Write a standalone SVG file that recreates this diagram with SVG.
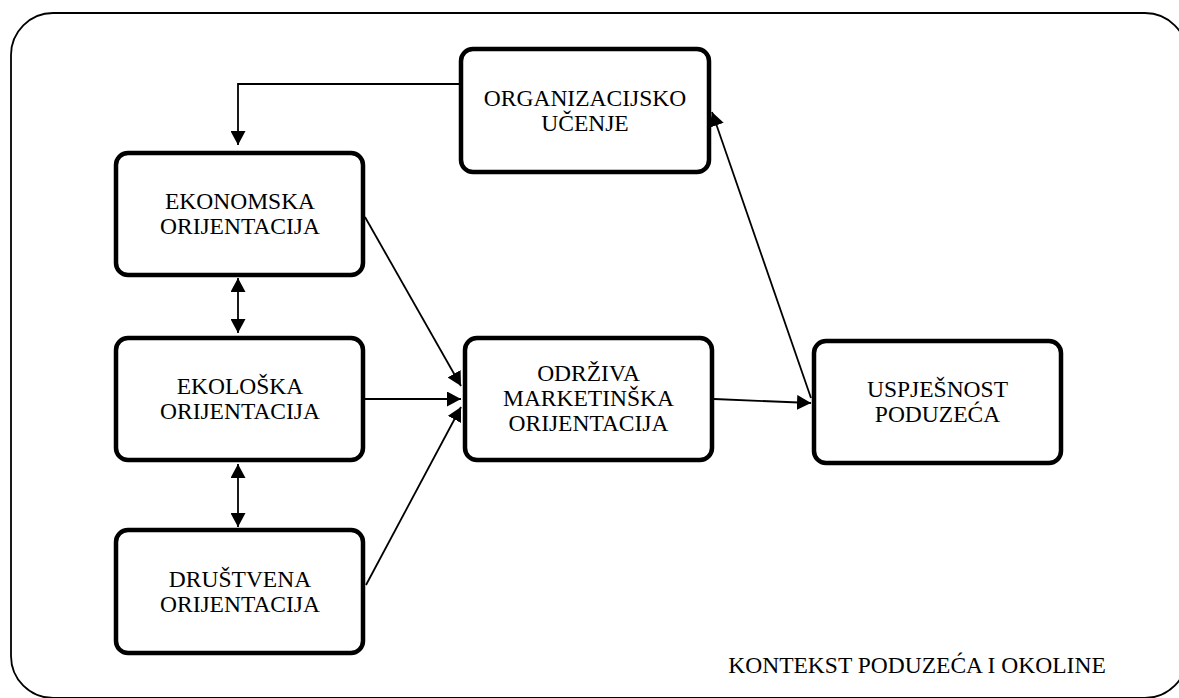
<svg xmlns="http://www.w3.org/2000/svg" width="1179" height="698" viewBox="0 0 1179 698">
<defs>
<marker id="ah" markerUnits="userSpaceOnUse" markerWidth="15" markerHeight="15" refX="14" refY="7.5" orient="auto-start-reverse" viewBox="0 0 15 15">
<path d="M0,0 L14,7.5 L0,15 z" fill="#000"/>
</marker>
<style>
.box{fill:#fff;stroke:#000;stroke-width:4.5}
.lbl{font-size:23.5px;fill:#000;text-anchor:middle}
.con{fill:none;stroke:#000;stroke-width:1.8}
.frame{fill:none;stroke:#000;stroke-width:1.8}
</style>
</defs>
<rect width="1179" height="698" fill="#fff"/>
<rect class="frame" x="11" y="13" width="1176" height="685" rx="42" ry="42"/>
<g id="connectors">
<path class="con" d="M459,84 H238 V145" marker-end="url(#ah)"/>
<line class="con" x1="238" y1="278" x2="238" y2="333" marker-start="url(#ah)" marker-end="url(#ah)"/>
<line class="con" x1="238" y1="464" x2="238" y2="527" marker-start="url(#ah)" marker-end="url(#ah)"/>
<line class="con" x1="365" y1="217" x2="461" y2="386" marker-end="url(#ah)"/>
<line class="con" x1="365" y1="399" x2="461" y2="399" marker-end="url(#ah)"/>
<line class="con" x1="366" y1="585" x2="461" y2="407" marker-end="url(#ah)"/>
<line class="con" x1="714" y1="399" x2="811" y2="403" marker-end="url(#ah)"/>
<line class="con" x1="811" y1="398" x2="712" y2="112" marker-end="url(#ah)"/>
</g>
<g font-family="Liberation Serif, serif">
<g id="organizacijsko">
<rect class="box" x="461" y="49" width="248" height="123" rx="12"/>
<text class="lbl" x="585" y="106">ORGANIZACIJSKO</text>
<text class="lbl" x="585" y="131">UČENJE</text>
</g>
<g id="ekonomska">
<rect class="box" x="116" y="153" width="247" height="122" rx="12"/>
<text class="lbl" x="240" y="209">EKONOMSKA</text>
<text class="lbl" x="240" y="234">ORIJENTACIJA</text>
</g>
<g id="ekoloska">
<rect class="box" x="116" y="338" width="247" height="122" rx="12"/>
<text class="lbl" x="240" y="394">EKOLOŠKA</text>
<text class="lbl" x="240" y="419">ORIJENTACIJA</text>
</g>
<g id="drustvena">
<rect class="box" x="116" y="530" width="247" height="123" rx="12"/>
<text class="lbl" x="240" y="587">DRUŠTVENA</text>
<text class="lbl" x="240" y="612">ORIJENTACIJA</text>
</g>
<g id="odrziva">
<rect class="box" x="465" y="338" width="247" height="122" rx="12"/>
<text class="lbl" x="588.5" y="381">ODRŽIVA</text>
<text class="lbl" x="588.5" y="406">MARKETINŠKA</text>
<text class="lbl" x="588.5" y="431">ORIJENTACIJA</text>
</g>
<g id="uspjesnost">
<rect class="box" x="814" y="341" width="247" height="122" rx="12"/>
<text class="lbl" x="937.5" y="397">USPJEŠNOST</text>
<text class="lbl" x="937.5" y="422">PODUZEĆA</text>
</g>
<g id="kontekst">
<text class="lbl" x="917" y="673">KONTEKST PODUZEĆA I OKOLINE</text>
</g>
</g>
</svg>
